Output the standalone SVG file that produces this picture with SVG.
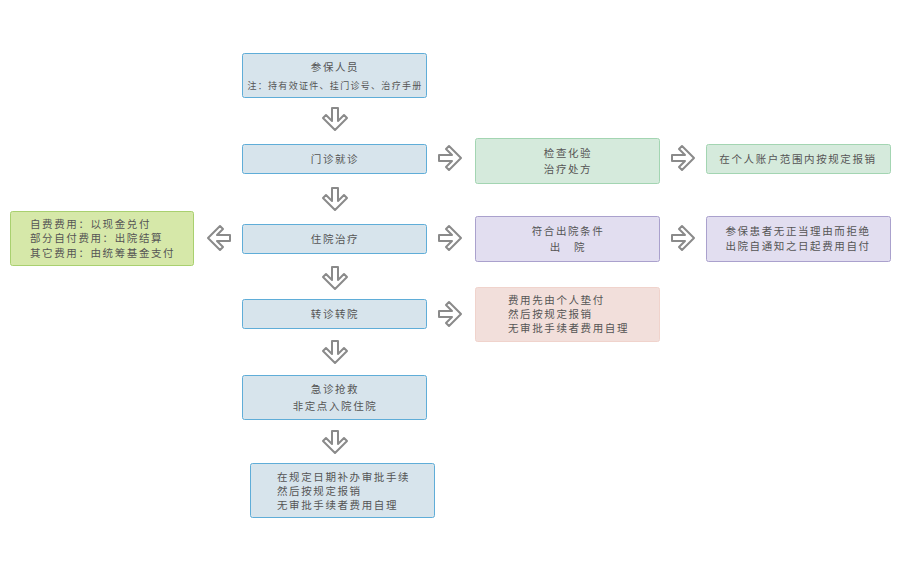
<svg xmlns="http://www.w3.org/2000/svg" width="900" height="570" viewBox="0 0 900 570">
<style>
text{font-family:"Noto Sans CJK SC","Noto Sans",sans-serif;font-size:10.5px;fill:#555;letter-spacing:1.6px}
.c{text-anchor:middle}
.s{font-size:9px;letter-spacing:1.3px}
.blue{fill:#d7e4ec;stroke:#5fadd8;stroke-width:1}
.green{fill:#d5eadc;stroke:#a3d5b2;stroke-width:1}
.lime{fill:#d6e8a9;stroke:#a9d06f;stroke-width:1}
.purple{fill:#e2def0;stroke:#aaa1cd;stroke-width:1}
.pink{fill:#f2dfdb;stroke:#f0d3cc;stroke-width:1}
.arr{fill:#fff;stroke:#8a8a8a;stroke-width:2;stroke-linejoin:round}
</style>
<defs>
<path id="down" d="M-3,0 H3 V13 L9,7 L12,10 L0,22 L-12,10 L-9,7 L-3,13 Z"/>
</defs>
<rect width="900" height="570" fill="#fff"/>
<g id="connectors">
<use href="#down" class="arr" transform="translate(335,108)"/>
<use href="#down" class="arr" transform="translate(335,188)"/>
<use href="#down" class="arr" transform="translate(335,267)"/>
<use href="#down" class="arr" transform="translate(335,341)"/>
<use href="#down" class="arr" transform="translate(335,431)"/>
<use href="#down" class="arr" transform="translate(439,158) rotate(-90)"/>
<use href="#down" class="arr" transform="translate(439,238) rotate(-90)"/>
<use href="#down" class="arr" transform="translate(439,314) rotate(-90)"/>
<use href="#down" class="arr" transform="translate(672,158) rotate(-90)"/>
<use href="#down" class="arr" transform="translate(672,238) rotate(-90)"/>
<use href="#down" class="arr" transform="translate(230,238) rotate(90)"/>
</g>
<g id="n1"><rect class="blue" x="242.5" y="53.5" width="184" height="44" rx="2"/>
<text class="c" x="335" y="71">参保人员</text>
<text class="c s" x="335" y="89">注：持有效证件、挂门诊号、治疗手册</text></g>
<g id="n2"><rect class="blue" x="242.5" y="144.5" width="184" height="29" rx="2"/>
<text class="c" x="335" y="163">门诊就诊</text></g>
<g id="n3"><rect class="green" x="475.5" y="138.5" width="184" height="45" rx="2"/>
<text class="c" x="568" y="157">检查化验</text>
<text class="c" x="568" y="173">治疗处方</text></g>
<g id="n4"><rect class="green" x="706.5" y="144.5" width="184" height="29" rx="2"/>
<text class="c" x="798" y="163">在个人账户范围内按规定报销</text></g>
<g id="n5"><rect class="lime" x="10.5" y="211.5" width="183" height="54" rx="2"/>
<text x="30" y="228">自费费用：以现金兑付</text>
<text x="30" y="242">部分自付费用：出院结算</text>
<text x="30" y="257">其它费用：由统筹基金支付</text></g>
<g id="n6"><rect class="blue" x="242.5" y="224.5" width="184" height="29" rx="2"/>
<text class="c" x="335" y="243">住院治疗</text></g>
<g id="n7"><rect class="purple" x="475.5" y="216.5" width="184" height="45" rx="2"/>
<text class="c" x="568" y="235">符合出院条件</text>
<text class="c" x="568" y="251">出　院</text></g>
<g id="n8"><rect class="purple" x="706.5" y="216.5" width="184" height="45" rx="2"/>
<text class="c" x="798" y="235">参保患者无正当理由而拒绝</text>
<text class="c" x="798" y="250">出院自通知之日起费用自付</text></g>
<g id="n9"><rect class="blue" x="242.5" y="299.5" width="184" height="29" rx="2"/>
<text class="c" x="335" y="318">转诊转院</text></g>
<g id="n10"><rect class="pink" x="475.5" y="287.5" width="184" height="54" rx="2"/>
<text x="508" y="304">费用先由个人垫付</text>
<text x="508" y="318">然后按规定报销</text>
<text x="508" y="332">无审批手续者费用自理</text></g>
<g id="n11"><rect class="blue" x="242.5" y="375.5" width="184" height="44" rx="2"/>
<text class="c" x="335" y="393">急诊抢救</text>
<text class="c" x="335" y="410">非定点入院住院</text></g>
<g id="n12"><rect class="blue" x="250.5" y="463.5" width="184" height="54" rx="2"/>
<text x="277" y="481">在规定日期补办审批手续</text>
<text x="277" y="495">然后按规定报销</text>
<text x="277" y="509">无审批手续者费用自理</text></g>
</svg>
